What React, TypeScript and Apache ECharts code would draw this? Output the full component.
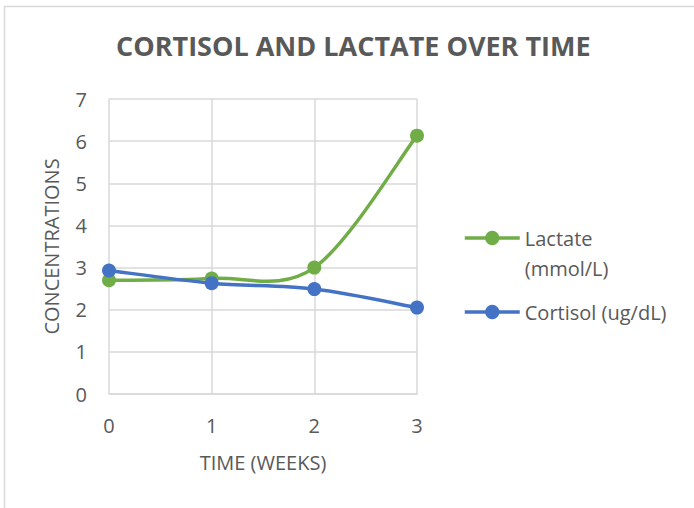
import React, { useEffect, useRef } from "react";
import * as echarts from "echarts";

const weeks = ["0", "1", "2", "3"];
const lactate = [2.7, 2.74, 3.0, 6.13];
const cortisol = [2.93, 2.63, 2.49, 2.05];
const lactateName = "Lactate (mmol/L)";
const cortisolName = "Cortisol (ug/dL)";
const titleText = "CORTISOL AND LACTATE OVER TIME";
const yName = "CONCENTRATIONS";
const xName = "TIME (WEEKS)";

const FONT = "'Open Sans', 'Noto Sans', sans-serif";
const GREY = "#595959";
const GRID = "#d9d9d9";
const GREEN = "#70ad47";
const BLUE = "#4472c4";

// Smooth curve like a spreadsheet's "smoothed line" (Catmull-Rom style Bezier)
function curveSeries(id: string, values: number[], color: string, z: number) {
  const n = values.length;
  return {
    id,
    type: "custom",
    silent: true,
    z,
    data: values.map((v, i) => [i, v]),
    renderItem: (params: any, api: any) => {
      const i = params.dataIndex;
      if (i >= n - 1) return { type: "group", children: [] };
      const pt = (k: number) => {
        const kk = Math.max(0, Math.min(n - 1, k));
        return api.coord([kk, values[kk]]);
      };
      const p0 = pt(i - 1);
      const p1 = pt(i);
      const p2 = pt(i + 1);
      const p3 = pt(i + 2);
      const t = 1 / 6;
      return {
        type: "bezierCurve",
        shape: {
          x1: p1[0],
          y1: p1[1],
          x2: p2[0],
          y2: p2[1],
          cpx1: p1[0] + (p2[0] - p0[0]) * t,
          cpy1: p1[1] + (p2[1] - p0[1]) * t,
          cpx2: p2[0] - (p3[0] - p1[0]) * t,
          cpy2: p2[1] - (p3[1] - p1[1]) * t,
        },
        style: { stroke: color, lineWidth: 3.5, fill: "none", lineCap: "round" },
      };
    },
  };
}

export default function App() {
  const ref = useRef<HTMLDivElement>(null);
  useEffect(() => {
    if (!ref.current) return;
    const chart = echarts.init(ref.current, undefined, { renderer: "svg" });
    const legendBase = {
      orient: "vertical",
      left: 463,
      padding: 0,
      itemWidth: 55,
      itemHeight: 18,
      lineStyle: { width: 3.5, opacity: 1 },
      textStyle: { fontFamily: FONT, fontSize: 20, color: GREY, lineHeight: 30 },
    };
    chart.setOption({
      animation: false,
      textStyle: { fontFamily: FONT },
      title: {
        text: titleText,
        left: 116,
        top: 32,
        padding: 0,
        textStyle: { fontFamily: FONT, fontSize: 27, fontWeight: "bold", color: GREY, lineHeight: 27 },
      },
      legend: [
        {
          ...legendBase,
          top: 193,
          data: [lactateName],
          formatter: () => " \nLactate\n(mmol/L)",
        },
        {
          ...legendBase,
          top: 297,
          data: [cortisolName],
        },
      ],
      grid: { left: 109, right: 277, top: 99, bottom: 114, containLabel: false },
      xAxis: {
        type: "category",
        data: weeks,
        boundaryGap: false,
        name: xName,
        nameLocation: "middle",
        nameGap: 58,
        nameTextStyle: { fontFamily: FONT, fontSize: 20, color: GREY },
        axisLine: { show: true, lineStyle: { color: GRID, width: 1.5 } },
        axisTick: { show: false },
        axisLabel: { fontFamily: FONT, fontSize: 20, color: GREY, margin: 21 },
        splitLine: { show: true, lineStyle: { color: GRID, width: 1.5 } },
      },
      yAxis: {
        type: "value",
        min: 0,
        max: 7,
        interval: 1,
        name: yName,
        nameLocation: "middle",
        nameGap: 48,
        nameRotate: 90,
        nameTextStyle: { fontFamily: FONT, fontSize: 20, color: GREY },
        axisLine: { show: false },
        axisTick: { show: false },
        axisLabel: { fontFamily: FONT, fontSize: 20, color: GREY, margin: 22 },
        splitLine: { show: true, lineStyle: { color: GRID, width: 1.5 } },
      },
      graphic: [
        {
          type: "rect",
          shape: { x: 4.5, y: 6.5, width: 720, height: 540 },
          style: { fill: "none", stroke: GRID, lineWidth: 1.5 },
          silent: true,
        },
      ],
      series: [
        curveSeries("lactateCurve", lactate, GREEN, 1),
        curveSeries("cortisolCurve", cortisol, BLUE, 1),
        {
          name: lactateName,
          type: "line",
          data: lactate,
          symbol: "circle",
          symbolSize: 14,
          lineStyle: { color: GREEN, width: 3.5, opacity: 0 },
          itemStyle: { color: GREEN },
          z: 2,
        },
        {
          name: cortisolName,
          type: "line",
          data: cortisol,
          symbol: "circle",
          symbolSize: 14,
          lineStyle: { color: BLUE, width: 3.5, opacity: 0 },
          itemStyle: { color: BLUE },
          z: 3,
        },
      ],
    });
    return () => chart.dispose();
  }, []);
  return (
    <div
      ref={ref}
      style={{ position: "fixed", left: 0, top: 0, width: 694, height: 508, background: "#fff" }}
    />
  );
}
